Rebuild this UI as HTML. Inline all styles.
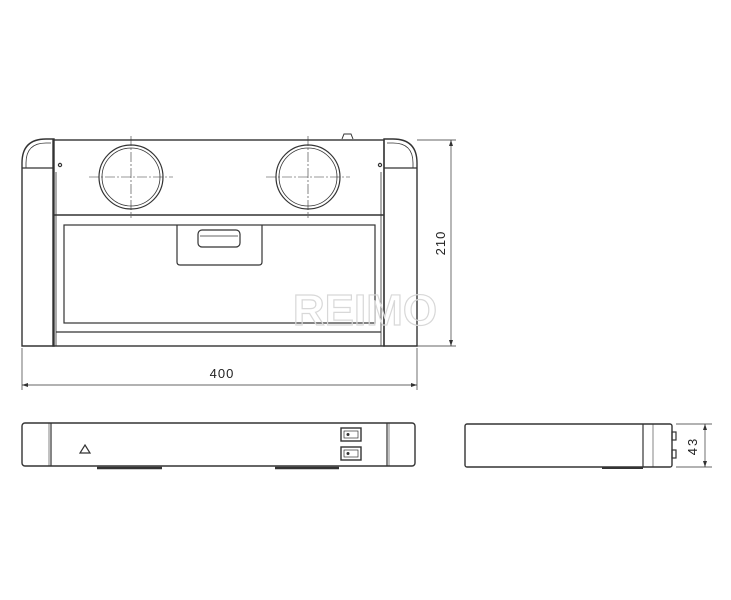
<!DOCTYPE html>
<html><head><style>html,body{margin:0;padding:0;background:#fff;}svg{display:block}</style></head>
<body>
<svg width="731" height="600" viewBox="0 0 731 600" xmlns="http://www.w3.org/2000/svg" font-family="Liberation Sans, sans-serif">
<g fill="none" stroke="#333" stroke-width="1.2">
<!-- FRONT VIEW -->
<!-- body -->
<rect x="53" y="140" width="331" height="206" stroke-width="1.4"/>
<line x1="53" y1="215" x2="384" y2="215" stroke-width="1.6"/>
<line x1="56" y1="332" x2="381" y2="332"/>
<line x1="56" y1="172" x2="56" y2="346" stroke-width="0.8"/>
<line x1="381" y1="172" x2="381" y2="346" stroke-width="0.8"/>
<!-- left cap -->
<path d="M22 346 V163 Q22 139 46 139 H54 V346 Z" stroke-width="1.4"/>
<path d="M26 168 V163 Q26 143 46 143 H51" stroke-width="0.8"/>
<line x1="22" y1="168" x2="54" y2="168"/>
<!-- right cap -->
<path d="M417 346 V163 Q417 139 393 139 H384 V346 Z" stroke-width="1.4"/>
<path d="M413 168 V163 Q413 143 393 143 H387" stroke-width="0.8"/>
<line x1="384" y1="168" x2="417" y2="168"/>
<!-- screws -->
<circle cx="60" cy="165" r="1.6"/>
<circle cx="380" cy="165" r="1.6"/>
<!-- top switch -->
<path d="M342 139 L344 134 H351 L353 139" stroke-width="1"/>
<!-- circles -->
<circle cx="131" cy="177" r="32"/>
<circle cx="131" cy="177" r="29" stroke-width="0.8"/>
<circle cx="308" cy="177" r="32"/>
<circle cx="308" cy="177" r="29" stroke-width="0.8"/>
<g stroke-width="0.6" stroke-dasharray="10 2 2 2">
<line x1="89" y1="177" x2="173" y2="177"/>
<line x1="131" y1="136" x2="131" y2="218"/>
<line x1="266" y1="177" x2="350" y2="177"/>
<line x1="308" y1="136" x2="308" y2="218"/>
</g>
<!-- drawer -->
<rect x="64" y="225" width="311" height="98"/>
<path d="M177 225 V262 Q177 265 180 265 H259 Q262 265 262 262 V225"/>
<rect x="198" y="230" width="42" height="17" rx="4"/>
<line x1="200" y1="236" x2="238" y2="236" stroke-width="0.7"/>
<!-- dimensions front -->
<g stroke-width="0.7">
<line x1="417" y1="140" x2="456" y2="140"/>
<line x1="417" y1="346" x2="456" y2="346"/>
<line x1="451" y1="140" x2="451" y2="346"/>
<line x1="22" y1="348" x2="22" y2="390"/>
<line x1="417" y1="348" x2="417" y2="390"/>
<line x1="22" y1="385" x2="417" y2="385"/>
</g>
</g>
<g fill="#333">
<path d="M451 140 l-2 6 h4z M451 346 l-2 -6 h4z M22 385 l6 -2 v4z M417 385 l-6 -2 v4z"/>
</g>
<text x="222" y="378" font-size="13" text-anchor="middle" fill="#222" letter-spacing="1">400</text>
<text transform="translate(445 243) rotate(-90)" font-size="13" text-anchor="middle" fill="#222" letter-spacing="1">210</text>
<!-- watermark -->
<text x="365" y="325" font-size="44" font-weight="bold" text-anchor="middle" fill="none" stroke="#d8d8d8" stroke-width="1.2">REIMO</text>

<!-- BOTTOM VIEW -->
<g fill="none" stroke="#333" stroke-width="1.2">
<rect x="22" y="423" width="393" height="43" rx="3" stroke-width="1.4"/>
<line x1="51" y1="423" x2="51" y2="466"/>
<line x1="49" y1="423" x2="49" y2="466" stroke-width="0.6"/>
<line x1="387" y1="423" x2="387" y2="466"/>
<line x1="389" y1="423" x2="389" y2="466" stroke-width="0.6"/>
<path d="M85 445 L90 453 H80 Z"/>
<rect x="341" y="428" width="20" height="13" stroke-width="1.4"/>
<rect x="341" y="447" width="20" height="13" stroke-width="1.4"/>
<rect x="344" y="431" width="14" height="7" stroke-width="0.7"/>
<rect x="344" y="450" width="14" height="7" stroke-width="0.7"/>
<line x1="97" y1="468" x2="162" y2="468" stroke-width="2.5"/>
<line x1="275" y1="468" x2="339" y2="468" stroke-width="2.5"/>
</g>
<g fill="#333"><circle cx="348" cy="434.5" r="1.5"/><circle cx="348" cy="453.5" r="1.5"/></g>

<!-- SIDE VIEW -->
<g fill="none" stroke="#333" stroke-width="1.2">
<rect x="465" y="424" width="207" height="43" rx="2" stroke-width="1.4"/>
<line x1="643" y1="424" x2="643" y2="467"/>
<line x1="653" y1="424" x2="653" y2="467" stroke-width="0.6"/>
<rect x="672" y="432" width="4" height="8"/>
<rect x="672" y="450" width="4" height="8"/>
<line x1="602" y1="468" x2="643" y2="468" stroke-width="2"/>
<g stroke-width="0.7">
<line x1="676" y1="424" x2="712" y2="424"/>
<line x1="676" y1="467" x2="712" y2="467"/>
<line x1="705" y1="424" x2="705" y2="467"/>
</g>
</g>
<g fill="#333"><path d="M705 424 l-2 6 h4z M705 467 l-2 -6 h4z"/></g>
<text transform="translate(697 446) rotate(-90)" font-size="13" text-anchor="middle" fill="#222" letter-spacing="2">43</text>
</svg>
</body></html>
